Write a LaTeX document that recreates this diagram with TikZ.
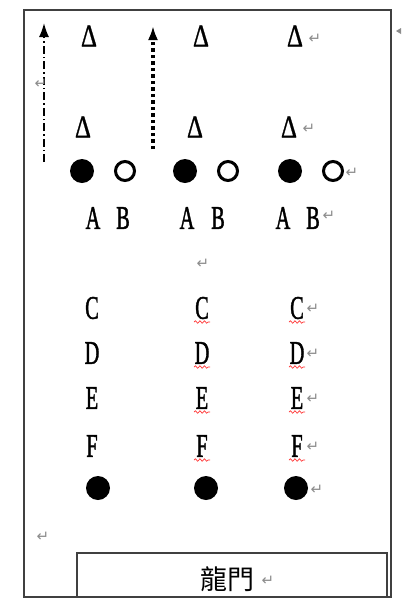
\documentclass[tikz,border=0pt]{standalone}
\usepackage{fontspec}
\usepackage{graphicx}
\setmainfont{Liberation Serif}
\newfontfamily\boldish[FakeBold=1.6]{Liberation Serif}
\newfontfamily\triish[FakeBold=1.0]{Liberation Serif}
\newfontfamily\cjkfont{Noto Sans CJK TC}
\newfontfamily\symfont{DejaVu Sans}
\usetikzlibrary{arrows.meta,decorations.pathmorphing}
\newcommand\narrow[1]{\scalebox{0.62}[1]{#1}}
\newcommand\tnarrow[1]{\scalebox{0.78}[1]{#1}}
\tikzset{
  frame/.style={draw=black!75,line width=1.3pt},
  letter/.style={inner sep=0pt,font=\boldish\fontsize{33}{33}\selectfont},
  tri/.style={inner sep=0pt,font=\triish\fontsize{32}{32}\selectfont},
  ret/.style={inner sep=0pt,text=black!45,font=\symfont\fontsize{15}{15}\selectfont},
  fulldot/.style={circle,fill=black,inner sep=0pt,minimum size=24pt},
  opendot/.style={circle,draw=black,line width=3pt,fill=white,inner sep=0pt,minimum size=19pt},
  wavy/.style={draw=red!80,line width=0.7pt,decorate,decoration={snake,amplitude=1.2pt,segment length=4.5pt}},
  arr/.style={-{Latex[length=14pt,width=10pt]},black}
}
\begin{document}
\begin{tikzpicture}[x=1pt,y=-1pt]
\useasboundingbox (0,0) rectangle (406,598);
\fill[white] (0,0) rectangle (406,598);
% outer frame
\draw[frame] (24,10) -- (391,10) -- (391,597) -- (24,597) -- cycle;
% anchor mark
\fill[black!45] (396,31) -- (401,28) -- (401,34) -- cycle;
% arrows
\coordinate (a1s) at (44,162);
\coordinate (a1e) at (44,23);
\coordinate (a2s) at (153,149);
\coordinate (a2e) at (153,26);
\draw[arr,line width=1.6pt,dash pattern=on 8pt off 3pt on 1.5pt off 3pt] (a1s) -- (a1e);
\draw[arr,line width=4pt,dash pattern=on 3.5pt off 3pt] (a2s) -- (a2e);
\node[ret] (r0) at (41,84) {↵};
% triangles
\node[tri] (t11) at (89,36) {\tnarrow{Δ}};
\node[tri] (t12) at (201,36) {\tnarrow{Δ}};
\node[tri] (t13) at (295,36) {\tnarrow{Δ}};
\node[ret] (r1) at (315,39) {↵};
\node[tri] (t21) at (83,127) {\tnarrow{Δ}};
\node[tri] (t22) at (195,127) {\tnarrow{Δ}};
\node[tri] (t23) at (289,127) {\tnarrow{Δ}};
\node[ret] (r2) at (309,129) {↵};
% dots row
\node[fulldot] (f1) at (82,171) {};
\node[opendot] (o1) at (125,171) {};
\node[fulldot] (f2) at (185,171) {};
\node[opendot] (o2) at (228,171) {};
\node[fulldot] (f3) at (290,171) {};
\node[opendot] (o3) at (333,171) {};
\node[ret] (r3) at (352,173) {↵};
% A B
\node[letter] (a1) at (93,218) {\narrow{A}};
\node[letter] (b1) at (123,218) {\narrow{B}};
\node[letter] (a2) at (187,218) {\narrow{A}};
\node[letter] (b2) at (218,218) {\narrow{B}};
\node[letter] (a3) at (283,218) {\narrow{A}};
\node[letter] (b3) at (313,218) {\narrow{B}};
\node[ret] (r4) at (329,216) {↵};
\node[ret] (r5) at (203,264) {↵};
% C D E F
\foreach \L/\yy in {C/308,D/353,E/398,F/446}{
  \node[letter] (\L1) at (92,\yy) {\narrow{\L}};
  \node[letter] (\L2) at (202,\yy) {\narrow{\L}};
  \node[letter] (\L3) at (297,\yy) {\narrow{\L}};
  \node[ret] (r\L) at (313,\yy+1) {↵};
  \draw[wavy] (194,\yy+14) -- (210,\yy+14);
  \draw[wavy] (289,\yy+14) -- (305,\yy+14);
}
% bottom dots
\node[fulldot] (g1) at (98,488) {};
\node[fulldot] (g2) at (206,488) {};
\node[fulldot] (g3) at (296,488) {};
\node[ret] (r6) at (317,490) {↵};
\node[ret] (r7) at (43,537) {↵};
% gate box
\draw[frame] (77,597) -- (77,553) -- (387,553) -- (387,597);
\node[inner sep=0pt,font=\cjkfont\fontsize{27}{27}\selectfont] (gate) at (227,579) {龍門};
\node[ret] (r8) at (268,581) {↵};
\end{tikzpicture}
\end{document}
